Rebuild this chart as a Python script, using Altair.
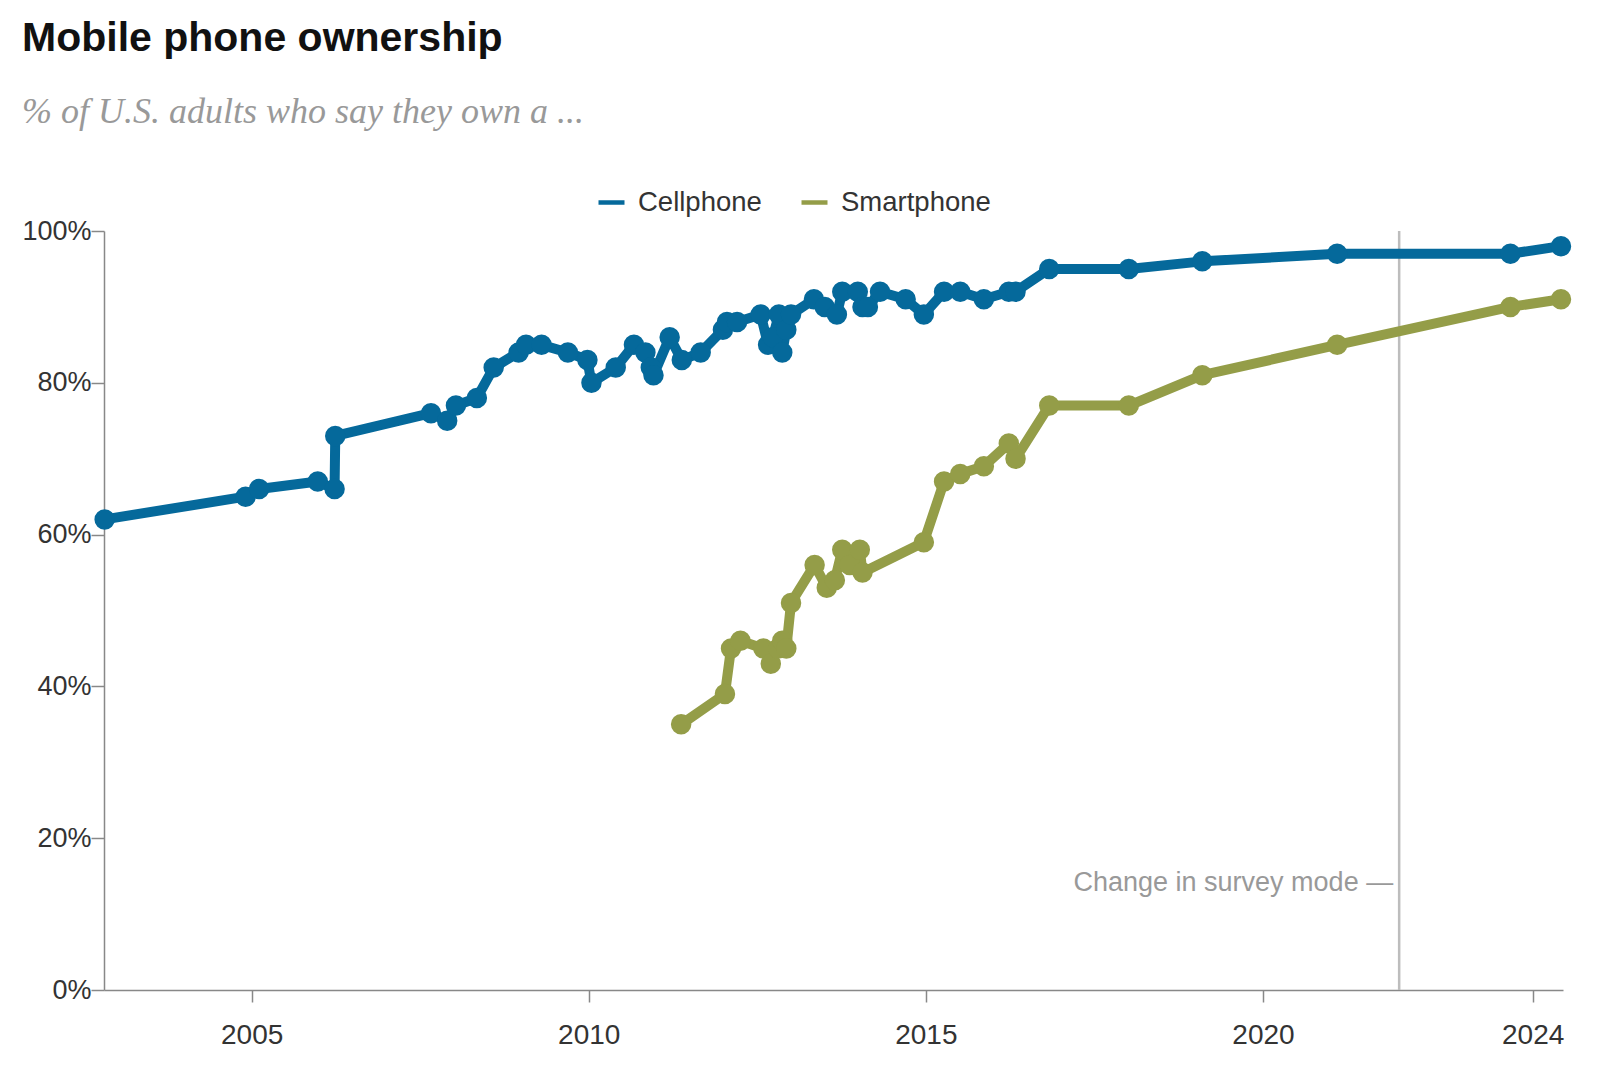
import altair as alt
import pandas as pd

# Cellphone ownership (decimal year, %)
cell_years = [2002.82, 2004.91, 2005.11, 2005.98, 2006.23, 2006.24, 2007.66, 2007.90,
              2008.03, 2008.34, 2008.59, 2008.96, 2009.07, 2009.30, 2009.69, 2009.98,
              2010.04, 2010.40, 2010.67, 2010.84, 2010.92, 2010.96, 2011.20, 2011.38,
              2011.66, 2011.99, 2012.05, 2012.20, 2012.55, 2012.66, 2012.73, 2012.82,
              2012.87, 2012.93, 2013.00, 2013.34, 2013.50, 2013.68, 2013.76, 2013.99,
              2014.06, 2014.14, 2014.32, 2014.70, 2014.97, 2015.27, 2015.51, 2015.86,
              2016.23, 2016.33, 2016.83, 2018.01, 2019.10, 2021.10, 2023.67, 2024.42]
cell_values = [62, 65, 66, 67, 66, 73, 76, 75,
               77, 78, 82, 84, 85, 85, 84, 83,
               80, 82, 85, 84, 82, 81, 86, 83,
               84, 87, 88, 88, 89, 85, 86, 89,
               84, 87, 89, 91, 90, 89, 92, 92,
               90, 90, 92, 91, 89, 92, 92, 91,
               92, 92, 95, 95, 96, 97, 97, 98]

# Smartphone ownership (decimal year, %)
smart_years = [2011.37, 2012.02, 2012.11, 2012.25, 2012.59, 2012.70, 2012.81, 2012.87,
               2012.93, 2013.00, 2013.35, 2013.53, 2013.65, 2013.76, 2013.87, 2014.02,
               2014.06, 2014.97, 2015.27, 2015.51, 2015.86, 2016.23, 2016.33, 2016.83,
               2018.01, 2019.10, 2021.10, 2023.67, 2024.42]
smart_values = [35, 39, 45, 46, 45, 43, 45, 46,
                45, 51, 56, 53, 54, 58, 56, 58,
                55, 59, 67, 68, 69, 72, 70, 77,
                77, 81, 85, 90, 91]

series_names = ["Cellphone", "Smartphone"]
series_colors = ["#05699b", "#949d48"]

mode_year = [2022.02]
mode_label = ["Change in survey mode —"]
mode_label_value = [14.1]

x_ticks = [2005, 2010, 2015, 2020, 2024]
y_ticks = [0, 20, 40, 60, 80, 100]

rows = []
for yr, v in zip(cell_years, cell_values):
    rows.append({"year": yr, "value": v, "series": "Cellphone"})
for yr, v in zip(smart_years, smart_values):
    rows.append({"year": yr, "value": v, "series": "Smartphone"})
df = pd.DataFrame(rows)

mode_df = pd.DataFrame({"year": mode_year, "value": mode_label_value, "label": mode_label})

FONT = "Liberation Sans"

x_enc = alt.X(
    "year:Q",
    scale=alt.Scale(domain=[2002.81, 2024.45], nice=False, zero=False),
    axis=alt.Axis(values=x_ticks, format="d", title=None, grid=False,
                  tickSize=12, labelPadding=19, labelFontSize=28,
                  labelFont=FONT, labelColor="#333", domainColor="#888",
                  tickColor="#888", domainWidth=1.5, tickWidth=1.5),
)
y_enc = alt.Y(
    "value:Q",
    scale=alt.Scale(domain=[0, 100], nice=False),
    axis=alt.Axis(values=y_ticks, labelExpr="datum.value + '%'", title=None,
                  grid=False, tickSize=13, labelPadding=0, labelFontSize=27,
                  labelFont=FONT, labelColor="#333", domainColor="#888",
                  tickColor="#888", domainWidth=1.5, tickWidth=1.5),
)

color_enc = alt.Color(
    "series:N",
    scale=alt.Scale(domain=series_names, range=series_colors),
    legend=alt.Legend(title=None, orient="none", direction="horizontal",
                      legendX=492, legendY=-44, symbolType="stroke",
                      symbolSize=676, symbolStrokeWidth=4.5, labelFontSize=27.5,
                      labelFont=FONT, labelColor="#333", labelOffset=11,
                      columnPadding=30),
)

rule = alt.Chart(mode_df).mark_rule(color="#bdbdbd", strokeWidth=2.5).encode(
    x=alt.X("year:Q")
)
note = alt.Chart(mode_df).mark_text(
    align="right", baseline="middle", dx=-6, fontSize=27, font=FONT, color="#999"
).encode(x="year:Q", y="value:Q", text="label:N")

lines = alt.Chart(df).mark_line(
    strokeWidth=10, strokeCap="round", strokeJoin="round",
    point=alt.OverlayMarkDef(filled=True, size=420, opacity=1),
).encode(x=x_enc, y=y_enc, color=color_enc, order="year:Q")

chart = alt.layer(rule, note, lines).properties(
    width=1459,
    height=759,
    autosize=alt.AutoSizeParams(type="none"),
    padding={"left": 96, "top": 223, "right": 29, "bottom": 79},
    title=alt.TitleParams(
        text="Mobile phone ownership",
        subtitle="% of U.S. adults who say they own a ...",
        anchor="start", frame="group", dx=-82, dy=3.5, offset=60,
        font=FONT, fontSize=41, fontWeight="bold", color="#111",
        subtitleFont="Liberation Serif", subtitleFontStyle="italic",
        subtitleFontSize=36, subtitleColor="#999", subtitlePadding=34.5,
    ),
).configure_view(strokeWidth=0)

chart.save("out.html", embed_options={"renderer": "svg", "actions": False})
